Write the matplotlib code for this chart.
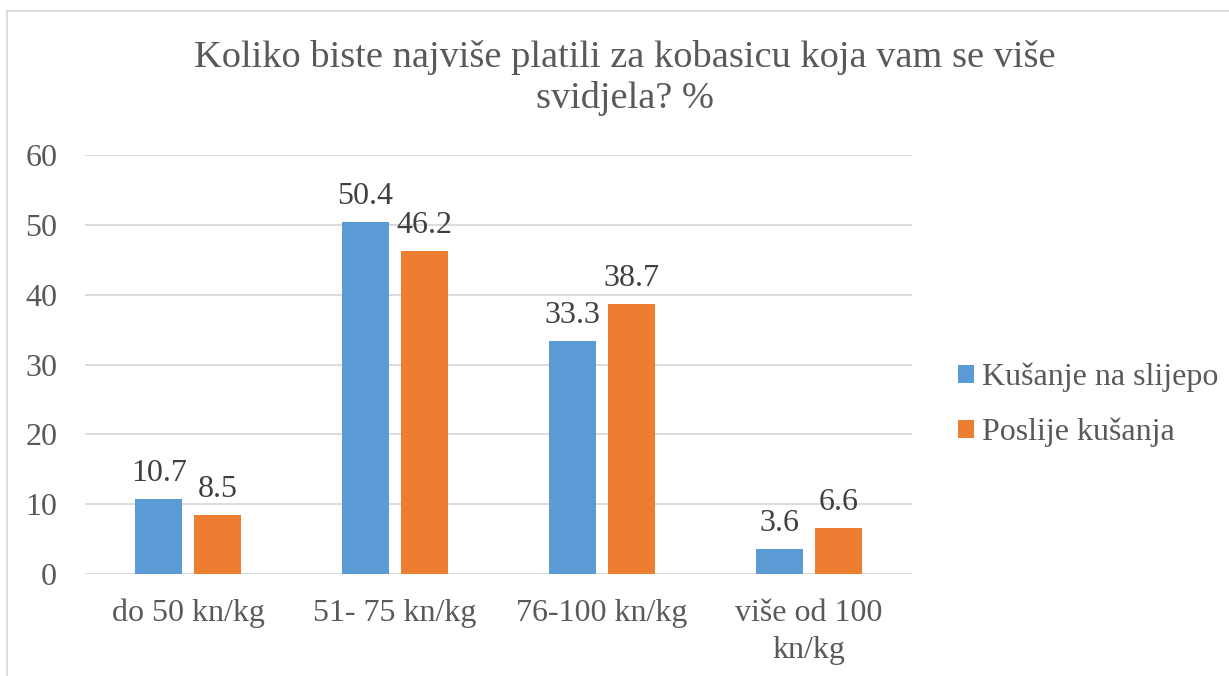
import matplotlib
matplotlib.use("Agg")
import matplotlib.pyplot as plt
from matplotlib.patches import Patch
from matplotlib.lines import Line2D
import numpy as np

categories = ["do 50 kn/kg", "51- 75 kn/kg", "76-100 kn/kg", "više od 100\nkn/kg"]
series_names = ["Kušanje na slijepo", "Poslije kušanja"]
blind = [10.7, 50.4, 33.3, 3.6]
after = [8.5, 46.2, 38.7, 6.6]
yticks = [0, 10, 20, 30, 40, 50, 60]
title = "Koliko biste najviše platili za kobasicu koja vam se više\nsvidjela? %"

BLUE = "#5B9BD5"
ORANGE = "#ED7D31"
TXT = "#595959"
GRID = "#D9D9D9"

plt.rcParams["font.family"] = "serif"
plt.rcParams["font.serif"] = ["Liberation Serif", "TeX Gyre Termes", "DejaVu Serif"]
FAM = ["Liberation Serif", "DejaVu Serif"]
FS = 23

fig = plt.figure(figsize=(12.29, 6.76), dpi=100)
ax = fig.add_axes([85/1229, 1-574/676, (912-85)/1229, (574-155)/676])

x = np.arange(len(categories))
w = 0.227
off = 0.143
b1 = ax.bar(x - off, blind, w, color=BLUE, label=series_names[0])
b2 = ax.bar(x + off, after, w, color=ORANGE, label=series_names[1])

for bars, vals in ((b1, blind), (b2, after)):
    for r, v in zip(bars, vals):
        ax.annotate(f"{v}", (r.get_x() + r.get_width()/2, v), xytext=(0, 8),
                    textcoords="offset points", ha="center", va="bottom",
                    fontsize=FS, color="#404040", family=FAM)

ax.set_xlim(-0.5, len(categories) - 0.5)
ax.set_ylim(0, 60)
ax.set_yticks(yticks)
ax.set_xticks(x)
ax.set_xticklabels(categories, fontsize=FS, color=TXT, linespacing=1.35, family=FAM)
ax.set_yticklabels([str(t) for t in yticks], fontsize=FS, color=TXT, family=FAM)
ax.tick_params(axis="y", length=0, pad=20)
ax.tick_params(axis="x", length=0, pad=18)
ax.yaxis.grid(True, color=GRID, linewidth=1.3)
ax.set_axisbelow(True)
for s in ax.spines.values():
    s.set_visible(False)

handles = [Patch(facecolor=BLUE), Patch(facecolor=ORANGE)]
leg = fig.legend(handles, series_names, loc="center left",
                 bbox_to_anchor=(936/1229, 1-405/676), frameon=False,
                 prop={"family": FAM, "size": FS}, handlelength=0.5, handleheight=0.5,
                 handletextpad=0.25, labelspacing=0.8, borderpad=0.2)
for t in leg.get_texts():
    t.set_color(TXT)

fig.text(625/1229, 1-78/676, title, ha="center", va="center", fontsize=27.6,
         color=TXT, linespacing=1.2, family=FAM)

# outer chart border (top and left visible)
fig.add_artist(Line2D([7/1229, 1], [1-11/676, 1-11/676], transform=fig.transFigure,
                      color=GRID, linewidth=1.3))
fig.add_artist(Line2D([7/1229, 7/1229], [0, 1-11/676], transform=fig.transFigure,
                      color=GRID, linewidth=1.3))

fig.savefig("out.png", dpi=100, facecolor="white")
